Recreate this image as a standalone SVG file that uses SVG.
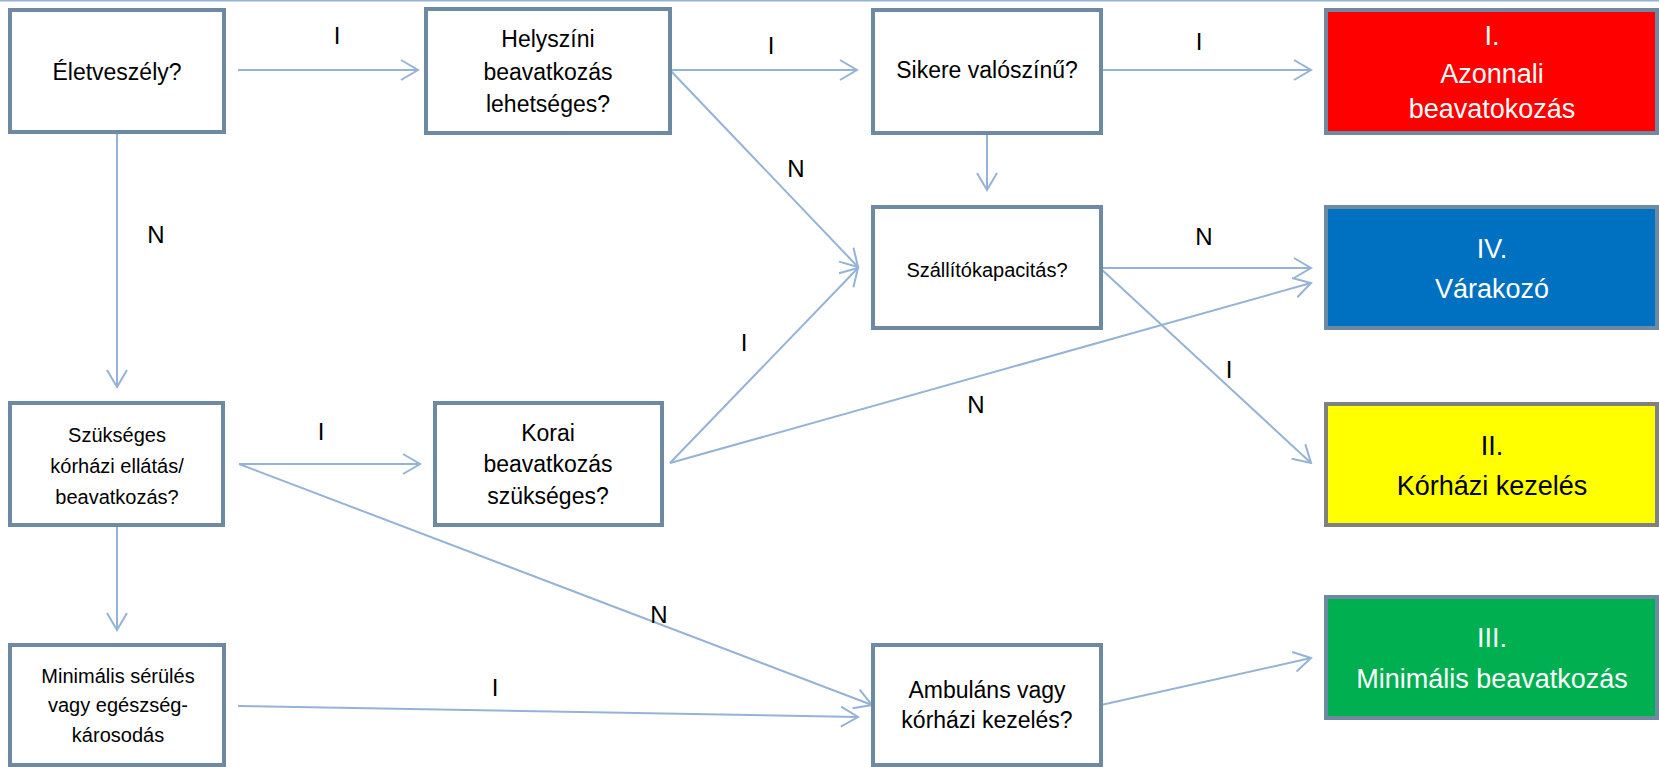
<svg xmlns="http://www.w3.org/2000/svg" width="1659" height="767" viewBox="0 0 1659 767">
<style>
.box{fill:#ffffff;stroke:#6e8aa3;stroke-width:4}
.t{font-family:"Liberation Sans",Arial,sans-serif;font-size:23px;fill:#000;text-anchor:middle}
.s{font-size:20px}
.c{font-family:"Liberation Sans",Arial,sans-serif;font-size:27px;text-anchor:middle}
.w{fill:#ffffff}
.lbl{font-family:"Liberation Sans",Arial,sans-serif;font-size:24px;fill:#000;text-anchor:middle}
.ln{fill:none;stroke:#95b3d7;stroke-width:2}
</style>
<defs>
<marker id="ah" markerUnits="userSpaceOnUse" markerWidth="24" markerHeight="24" viewBox="-20 -12 24 24" refX="0" refY="0" orient="auto">
<path d="M-17,-10 L0,0 L-17,10" fill="none" stroke="#95b3d7" stroke-width="2"/>
</marker>
</defs>
<line x1="0" y1="0.5" x2="1659" y2="0.5" stroke="#95b3d7" stroke-width="2"/>
<g id="connectors">
<line class="ln" x1="238" y1="70" x2="418" y2="70" marker-end="url(#ah)"/>
<line class="ln" x1="670" y1="70" x2="857" y2="70" marker-end="url(#ah)"/>
<line class="ln" x1="1101" y1="70" x2="1311" y2="70" marker-end="url(#ah)"/>
<line class="ln" x1="670" y1="70" x2="858" y2="267" marker-end="url(#ah)"/>
<line class="ln" x1="987" y1="133" x2="987" y2="190" marker-end="url(#ah)"/>
<line class="ln" x1="117" y1="132" x2="117" y2="387" marker-end="url(#ah)"/>
<line class="ln" x1="1100" y1="268" x2="1311" y2="268" marker-end="url(#ah)"/>
<line class="ln" x1="1100" y1="268" x2="1311" y2="463" marker-end="url(#ah)"/>
<line class="ln" x1="239" y1="464" x2="420" y2="464" marker-end="url(#ah)"/>
<line class="ln" x1="239" y1="464" x2="872" y2="705" marker-end="url(#ah)"/>
<line class="ln" x1="670" y1="463" x2="858" y2="268" marker-end="url(#ah)"/>
<line class="ln" x1="670" y1="463" x2="1311" y2="283" marker-end="url(#ah)"/>
<line class="ln" x1="117" y1="525" x2="117" y2="630" marker-end="url(#ah)"/>
<line class="ln" x1="238" y1="706" x2="858" y2="717" marker-end="url(#ah)"/>
<line class="ln" x1="1101" y1="705" x2="1311" y2="658" marker-end="url(#ah)"/>
<text class="lbl" x="337" y="44">I</text>
<text class="lbl" x="771" y="54">I</text>
<text class="lbl" x="1199" y="50">I</text>
<text class="lbl" x="796" y="177">N</text>
<text class="lbl" x="156" y="243">N</text>
<text class="lbl" x="1204" y="245">N</text>
<text class="lbl" x="1229" y="378">I</text>
<text class="lbl" x="321" y="440">I</text>
<text class="lbl" x="744" y="351">I</text>
<text class="lbl" x="976" y="413">N</text>
<text class="lbl" x="659" y="623">N</text>
<text class="lbl" x="495" y="696">I</text>
</g>
<g id="n-eletveszely">
<rect class="box" x="10" y="10" width="214" height="122"/>
<text class="t" x="117" y="80">Életveszély?</text>
</g>
<g id="n-helyszini">
<rect class="box" x="426" y="9" width="244" height="124"/>
<text class="t" x="548" y="47">Helyszíni</text>
<text class="t" x="548" y="80">beavatkozás</text>
<text class="t" x="548" y="112">lehetséges?</text>
</g>
<g id="n-sikere">
<rect class="box" x="873" y="10" width="228" height="123"/>
<text class="t" x="987" y="78">Sikere valószínű?</text>
</g>
<g id="n-azonnali">
<rect x="1326" y="10" width="331" height="123" fill="#ff0000" stroke="#6e8aa3" stroke-width="4"/>
<text class="c w" x="1492" y="45">I.</text>
<text class="c w" x="1492" y="83">Azonnali</text>
<text class="c w" x="1492" y="118">beavatokozás</text>
</g>
<g id="n-szallito">
<rect class="box" x="873" y="207" width="228" height="121"/>
<text class="t s" x="987" y="277">Szállítókapacitás?</text>
</g>
<g id="n-varakozo">
<rect x="1326" y="207" width="331" height="121" fill="#0070c0" stroke="#6e8aa3" stroke-width="4"/>
<text class="c w" x="1492" y="258">IV.</text>
<text class="c w" x="1492" y="298">Várakozó</text>
</g>
<g id="n-szukseges">
<rect class="box" x="10" y="403" width="213" height="122"/>
<text class="t s" x="117" y="442">Szükséges</text>
<text class="t s" x="117" y="473">kórházi ellátás/</text>
<text class="t s" x="117" y="504">beavatkozás?</text>
</g>
<g id="n-korai">
<rect class="box" x="435" y="403" width="227" height="122"/>
<text class="t" x="548" y="441">Korai</text>
<text class="t" x="548" y="472">beavatkozás</text>
<text class="t" x="548" y="504">szükséges?</text>
</g>
<g id="n-korhazi">
<rect x="1326" y="404" width="331" height="121" fill="#ffff00" stroke="#808080" stroke-width="4"/>
<text class="c" x="1492" y="455">II.</text>
<text class="c" x="1492" y="495">Kórházi kezelés</text>
</g>
<g id="n-minimalis-ser">
<rect class="box" x="10" y="645" width="214" height="120"/>
<text class="t s" x="118" y="683">Minimális sérülés</text>
<text class="t s" x="118" y="712">vagy egészség-</text>
<text class="t s" x="118" y="742">károsodás</text>
</g>
<g id="n-ambulans">
<rect class="box" x="873" y="645" width="228" height="120"/>
<text class="t" x="987" y="698">Ambuláns vagy</text>
<text class="t" x="987" y="728">kórházi kezelés?</text>
</g>
<g id="n-minimalis-beav">
<rect x="1326" y="597" width="331" height="121" fill="#00b050" stroke="#6e8aa3" stroke-width="4"/>
<text class="c w" x="1492" y="647">III.</text>
<text class="c w" x="1492" y="688">Minimális beavatkozás</text>
</g>
</svg>
